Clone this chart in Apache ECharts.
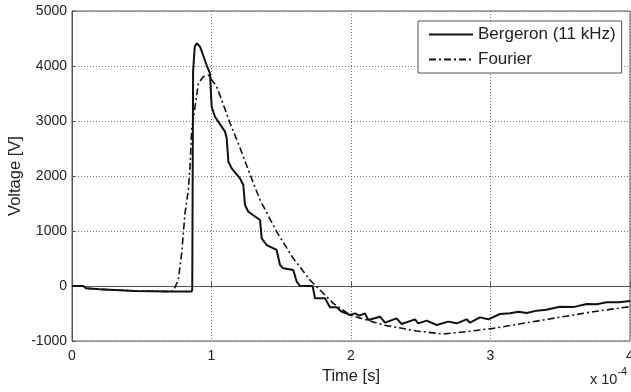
<!DOCTYPE html>
<html><head><meta charset="utf-8">
<script src="https://cdn.jsdelivr.net/npm/echarts@6/dist/echarts.min.js"></script>
<style>html,body{margin:0;padding:0;background:#fff}#c{width:631px;height:392px}</style>
</head><body><div id="c"></div>
<script>
// time in units of 1e-4 s
const xTicks = [0, 1, 2, 3, 4];
const yTicks = [-1000, 0, 1000, 2000, 3000, 4000, 5000];
const bergeronT = [0,0.08,0.1,0.2,0.45,0.7,0.858,0.862,0.868,0.88,0.894,0.918,0.965,0.989,1.001,1.025,1.097,1.109,1.121,1.145,1.204,1.228,1.24,1.264,1.348,1.36,1.395,1.467,1.491,1.515,1.586,1.611,1.634,1.725,1.742,1.814,1.849,1.897,1.933,1.993,2.029,2.06,2.1,2.124,2.208,2.244,2.327,2.363,2.459,2.482,2.543,2.614,2.697,2.758,2.829,2.853,2.925,2.984,3.068,3.14,3.2,3.26,3.331,3.4,3.498,3.6,3.69,3.76,3.833,3.92,4.0];
const bergeronV = [0,0,-40,-60,-90,-100,-100,-60,3900,4350,4413,4350,4018,3867,3260,3078,2806,2685,2260,2139,1958,1836,1473,1351,1200,867,745,655,382,321,291,78,0,0,-224,-224,-388,-388,-467,-527,-497,-540,-497,-618,-558,-667,-588,-691,-606,-679,-630,-709,-648,-679,-606,-667,-570,-606,-509,-497,-467,-490,-448,-430,-376,-380,-327,-330,-297,-295,-273];
const fourierT = [0,0.08,0.1,0.2,0.45,0.7,0.726,0.762,0.786,0.81,0.834,0.846,0.858,0.882,0.906,0.941,0.977,1.037,1.073,1.133,1.192,1.276,1.348,1.467,1.586,1.706,1.754,1.873,1.993,2.232,2.471,2.662,2.829,3.02,3.378,3.737,4.0];
const fourierV = [0,0,-40,-60,-90,-100,-90,109,594,1321,1745,2170,2836,3260,3685,3806,3836,3624,3382,2958,2594,2030,1564,988,503,109,-12,-315,-527,-709,-818,-873,-830,-770,-618,-467,-376];
const seriesNames = ['Bergeron (11 kHz)', 'Fourier'];

const zip = (a, b) => a.map((v, i) => [v, b[i]]);
const font = 'Liberation Sans, Arial, Helvetica, sans-serif';
const chart = echarts.init(document.getElementById('c'), null, {renderer: 'canvas'});
chart.setOption({
  animation: false,
  backgroundColor: '#fff',
  grid: {left: 72, right: 1, top: 11, bottom: 51, show: true, borderColor: '#555', borderWidth: 1,
         containLabel: false, outerBoundsMode: 'none'},
  xAxis: {
    type: 'value', min: xTicks[0], max: xTicks[xTicks.length - 1], interval: 1,
    name: 'Time [s]', nameLocation: 'middle', nameGap: 27, nameMoveOverlap: false,
    nameTextStyle: {fontFamily: font, fontSize: 16.5, color: '#222'},
    axisLine: {show: true, lineStyle: {color: '#555'}},
    axisTick: {show: true, inside: true, length: 4, lineStyle: {color: '#555'}},
    axisLabel: {fontFamily: font, fontSize: 14, color: '#222', margin: 8, formatter: v => String(v)},
    splitLine: {show: true, lineStyle: {color: '#777', type: [1, 2], width: 1}}
  },
  yAxis: {
    type: 'value', min: yTicks[0], max: yTicks[yTicks.length - 1], interval: 1000,
    name: 'Voltage [V]', nameLocation: 'middle', nameGap: 48, nameRotate: 90, nameMoveOverlap: false,
    nameTextStyle: {fontFamily: font, fontSize: 16.5, color: '#222'},
    axisLine: {show: true, lineStyle: {color: '#555'}},
    axisTick: {show: true, inside: true, length: 4, lineStyle: {color: '#555'}},
    axisLabel: {fontFamily: font, fontSize: 14, color: '#222', margin: 5, formatter: v => String(v)},
    splitLine: {show: true, lineStyle: {color: '#777', type: [1, 2], width: 1}}
  },
  legend: {
    left: 418, top: 21, orient: 'vertical',
    padding: [5, 6, 5, 10], itemGap: 8, itemWidth: 44, itemHeight: 18,
    backgroundColor: '#fff', borderColor: '#555', borderWidth: 1, borderRadius: 0,
    itemStyle: {opacity: 0},
    textStyle: {fontFamily: font, fontSize: 17, color: '#222'},
    data: seriesNames
  },
  graphic: [{
    type: 'text', left: 590, top: 366,
    style: {
      text: '{a|x 10}{b|-4}', fontFamily: font,
      rich: {a: {fontSize: 14.5, fontFamily: font, fill: '#222', padding: [6, 0, 0, 0]},
             b: {fontSize: 11, fontFamily: font, fill: '#222', verticalAlign: 'top'}}
    }
  }],
  series: [
    {name: seriesNames[0], type: 'line', symbol: 'none', data: zip(bergeronT, bergeronV),
     lineStyle: {color: '#111', width: 2}, itemStyle: {color: '#111'}, z: 3},
    {name: seriesNames[1], type: 'line', symbol: 'none', data: zip(fourierT, fourierV),
     lineStyle: {color: '#111', width: 1.6, type: [7, 3, 2, 3]}, itemStyle: {color: '#111'}, z: 2}
  ]
});
</script></body></html>
